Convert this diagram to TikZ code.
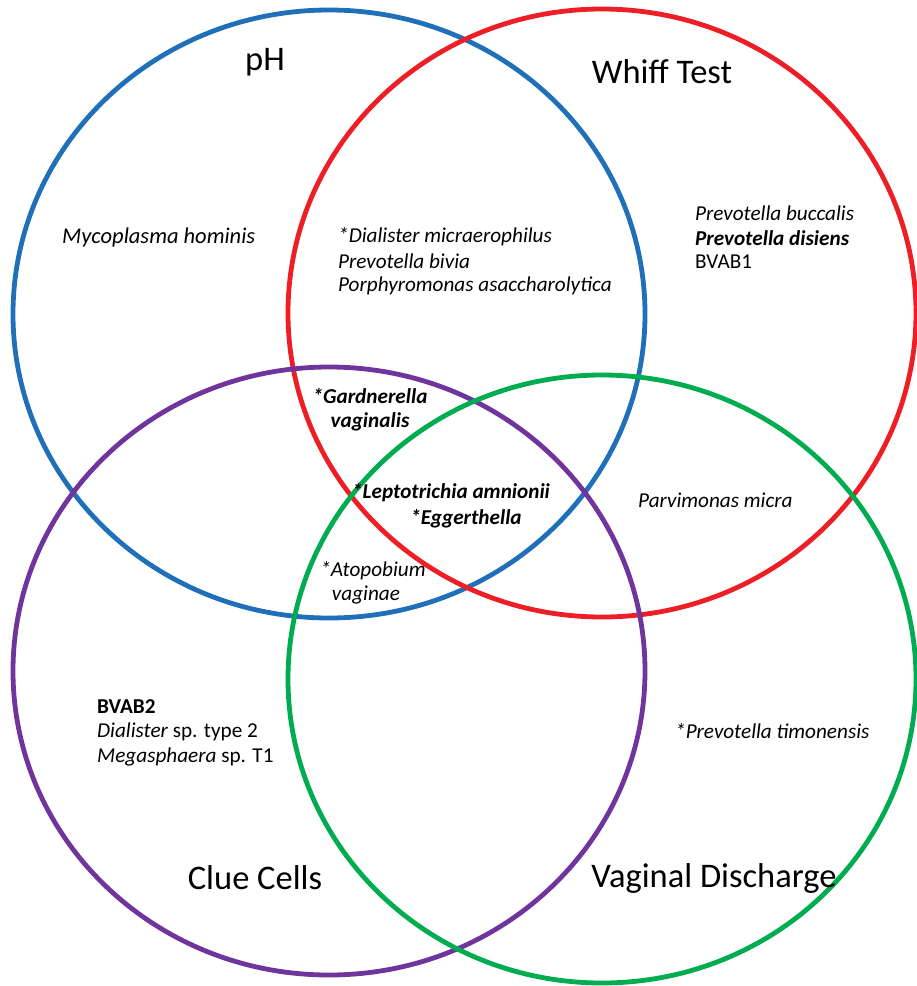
\documentclass[tikz,border=0pt]{standalone}
\usepackage{fontspec}
\setmainfont{Carlito}
\definecolor{cblue}{RGB}{31,112,185}
\definecolor{cred}{RGB}{237,30,38}
\definecolor{cpurple}{RGB}{112,52,157}
\definecolor{cgreen}{RGB}{0,172,80}
\begin{document}
\begin{tikzpicture}[x=1pt,y=-1pt,
  ring/.style={line width=4.8pt},
  title/.style={inner sep=0pt,font=\fontsize{34.5}{40}\selectfont},
  lbl/.style={inner sep=0pt,anchor=west,font=\fontsize{21.2}{24}\selectfont},
  clbl/.style={inner sep=0pt,font=\fontsize{21.2}{24}\selectfont}]
\useasboundingbox (0,0) rectangle (917,986);
\draw[ring,cblue] (329,314) ellipse [x radius=316pt, y radius=304pt];
\draw[ring,cred] (602,313) ellipse [x radius=314pt, y radius=304pt];
\draw[ring,cpurple] (329,671) ellipse [x radius=316pt, y radius=304pt];
\draw[ring,cgreen] (602,679) ellipse [x radius=314pt, y radius=304pt];
% titles
\node[title] (tph) at (265,62) {pH};
\node[title] (twhiff) at (662,72) {Whiff Test};
\node[title] (tclue) at (255,878) {Clue Cells};
\node[title] (tvag) at (714,878) {Vaginal Discharge};
% pH only
\node[lbl,font=\fontsize{22.5}{24}\selectfont] (myco) at (62,237) {\itshape Mycoplasma hominis};
% pH + Whiff
\node[lbl] (dial) at (338,237) {\itshape *Dialister micraerophilus};
\node[lbl] (pbiv) at (338,261) {\itshape Prevotella bivia};
\node[lbl] (porph) at (338,286) {\itshape Porphyromonas asaccharolytica};
% Whiff only
\node[lbl] (pbuc) at (695,213) {\itshape Prevotella buccalis};
\node[lbl] (pdis) at (695,238) {\bfseries\itshape Prevotella disiens};
\node[lbl] (bvab1) at (695,262) {BVAB1};
% pH + Whiff + Clue
\node[clbl] (gard1) at (370,396) {\bfseries\itshape *Gardnerella};
\node[clbl] (gard2) at (370,422) {\bfseries\itshape vaginalis};
% all four
\node[clbl] (lept) at (451,493) {\bfseries\itshape *Leptotrichia amnionii};
\node[clbl] (egg) at (466,519) {\bfseries\itshape *Eggerthella};
% Whiff + Vag
\node[lbl] (parv) at (638,500) {\itshape Parvimonas micra};
% pH + Clue + Vag
\node[clbl] (atop1) at (373,571) {\itshape *Atopobium};
\node[clbl] (atop2) at (366,595) {\itshape vaginae};
% Clue only
\node[lbl] (bvab2) at (97,707) {\bfseries BVAB2};
\node[lbl] (dial2) at (97,732) {\itshape Dialister\upshape{} sp. type 2};
\node[lbl] (mega) at (97,757) {\itshape Megasphaera\upshape{} sp. T1};
% Vag only
\node[lbl] (ptim) at (675,731) {\itshape *Prevotella timonensis};
\end{tikzpicture}
\end{document}
